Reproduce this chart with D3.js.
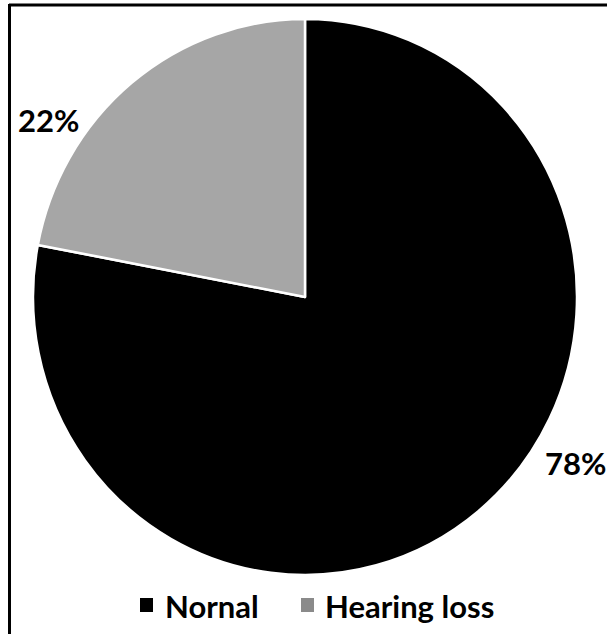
<!DOCTYPE html>
<html>
<head>
<meta charset="utf-8">
<script src="https://cdn.jsdelivr.net/npm/d3@7"></script>
<style>
  html, body { margin: 0; padding: 0; background: #fff; }
  svg { display: block; }
  text { font-family: Lato, "Open Sans", sans-serif; font-weight: 700; fill: #000; }
</style>
</head>
<body>
<script>
const categories = ["Nornal", "Hearing loss"];
const values = [78, 22];
const labels = ["78%", "22%"];
const colors = ["#000000", "#a6a6a6"];
const legendColors = ["#000000", "#8a8a8a"];

const W = 607, H = 634;
const cx = 305, cy = 297, rx = 272, ry = 278;

const svg = d3.select("body").append("svg").attr("width", W).attr("height", H);

// frame (top and left lines)
svg.append("line").attr("x1", 9).attr("y1", 5).attr("x2", W).attr("y2", 5)
  .attr("stroke", "#000").attr("stroke-width", 3);
svg.append("line").attr("x1", 9.5).attr("y1", 4).attr("x2", 9.5).attr("y2", H)
  .attr("stroke", "#000").attr("stroke-width", 3);

const pie = d3.pie().sort(null).value(d => d);
const arcs = pie(values);
const arc = d3.arc().innerRadius(0).outerRadius(rx);

const g = svg.append("g")
  .attr("transform", `translate(${cx},${cy}) scale(1,${ry / rx})`);

g.selectAll("path").data(arcs).enter().append("path")
  .attr("d", arc)
  .attr("fill", (d, i) => colors[i])
  .attr("stroke", "#fff")
  .attr("stroke-width", 2.5)
  .attr("stroke-linejoin", "round");

// data labels (best-fit positions outside the pie)
const labelPos = [[545, 475], [18, 132]];
svg.selectAll("text.lbl").data(labels).enter().append("text")
  .attr("class", "lbl")
  .attr("x", (d, i) => labelPos[i][0])
  .attr("y", (d, i) => labelPos[i][1])
  .attr("font-size", 31)
  .text(d => d);

// legend
const legendItems = [
  { sx: 140, tx: 165 },
  { sx: 301, tx: 325 }
];
const lg = svg.append("g");
legendItems.forEach((it, i) => {
  lg.append("rect").attr("x", it.sx).attr("y", 598).attr("width", 13).attr("height", 14)
    .attr("fill", legendColors[i]);
  lg.append("text").attr("x", it.tx).attr("y", 618).attr("font-size", 31).text(categories[i]);
});
</script>
</body>
</html>
